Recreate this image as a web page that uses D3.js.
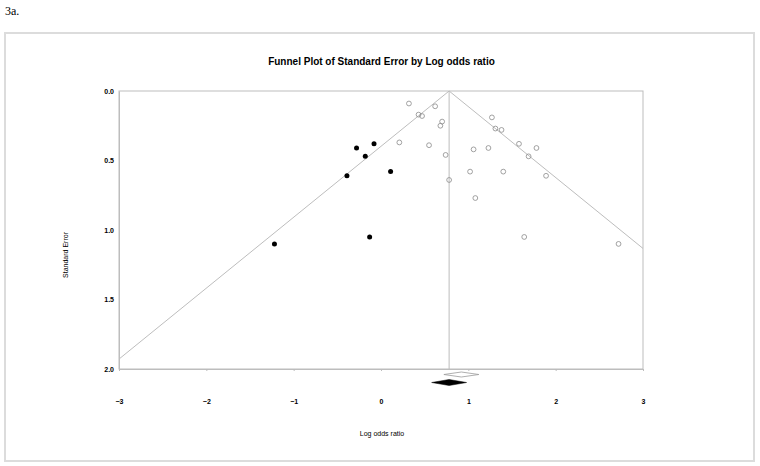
<!DOCTYPE html>
<html><head><meta charset="utf-8">
<script src="https://cdn.jsdelivr.net/npm/d3@7/dist/d3.min.js"></script>
<style>
html,body{margin:0;padding:0;background:#fff;}
svg{display:block;}
</style></head>
<body>
<svg id="chart" width="760" height="466"></svg>
<script>
// ---- data ----
const xTicks = [-3, -2, -1, 0, 1, 2, 3];
const yTicks = [0.0, 0.5, 1.0, 1.5, 2.0];
// observed studies (open circles)
const observedLOR = [0.32, 0.43, 0.47, 0.62, 0.70, 0.68, 0.21, 0.55, 0.74, 0.78,
                     1.27, 1.31, 1.38, 1.06, 1.23, 1.58, 1.78, 1.69, 1.02, 1.40,
                     1.89, 1.08, 1.64, 2.72];
const observedSE  = [0.09, 0.17, 0.18, 0.11, 0.22, 0.25, 0.37, 0.39, 0.46, 0.64,
                     0.19, 0.27, 0.28, 0.42, 0.41, 0.38, 0.41, 0.47, 0.58, 0.58,
                     0.61, 0.77, 1.05, 1.10];
// imputed studies (filled circles)
const imputedLOR = [-0.28, -0.08, -0.18, -0.39, 0.11, -0.13, -1.22];
const imputedSE  = [0.41, 0.38, 0.47, 0.61, 0.58, 1.05, 1.10];
// summary estimates [point, lower, upper]
const observedSummary = [0.92, 0.72, 1.12];
const adjustedSummary = [0.78, 0.58, 0.98];

// ---- layout ----
const svg = d3.select("#chart");
const x = d3.scaleLinear().domain([-3, 3]).range([119, 643]);
const y = d3.scaleLinear().domain([0, 2]).range([91, 369]);
const grey = "#bdbdbd";
const font = "'Liberation Sans', Arial, sans-serif";

// outer frame
svg.append("rect").attr("x", 5).attr("y", 33).attr("width", 749).attr("height", 428)
  .attr("fill", "none").attr("stroke", "#dcdcdc").attr("stroke-width", 2);

// figure label
svg.append("text").attr("x", 5).attr("y", 15).text("3a.")
  .attr("font-family", "'Liberation Serif', 'Times New Roman', serif").attr("font-size", 12).attr("fill", "#000");

// title
svg.append("text").attr("x", 381.5).attr("y", 65).attr("text-anchor", "middle")
  .attr("font-family", font).attr("font-weight", "bold").attr("font-size", 10)
  .text("Funnel Plot of Standard Error by Log odds ratio");

// plot frame
svg.append("rect").attr("x", x(-3)).attr("y", y(0)).attr("width", x(3) - x(-3)).attr("height", y(2) - y(0))
  .attr("fill", "none").attr("stroke", grey).attr("stroke-width", 1);

// axes
const xAxis = d3.axisBottom(x).tickValues(xTicks).tickFormat(d3.format("d"))
  .tickSizeInner(2).tickSizeOuter(0).tickPadding(28);
const gx = svg.append("g").attr("transform", `translate(0,${y(2)})`).call(xAxis);
const yAxis = d3.axisLeft(y).tickValues(yTicks).tickFormat(d3.format(".1f"))
  .tickSize(0).tickPadding(5);
const gy = svg.append("g").attr("transform", `translate(${x(-3)},0)`).call(yAxis);
[gx, gy].forEach(g => {
  g.select(".domain").attr("stroke", grey);
  g.selectAll(".tick line").attr("stroke", grey);
  g.selectAll(".tick text").attr("font-family", font).attr("font-size", 7)
    .attr("font-weight", "bold").attr("fill", "#000");
});

// axis titles
svg.append("text").attr("x", 382).attr("y", 436).attr("text-anchor", "middle")
  .attr("font-family", font).attr("font-size", 7).text("Log odds ratio");
svg.append("text").attr("transform", "translate(68,255) rotate(-90)").attr("text-anchor", "middle")
  .attr("font-family", font).attr("font-size", 7).text("Standard Error");

// funnel
const m = adjustedSummary[0];
const seLeft = Math.min(2, (m - (-3)) / 1.96);
const seRight = Math.min(2, (3 - m) / 1.96);
const funnel = [[m - 1.96 * seLeft, seLeft], [m, 0], [m + 1.96 * seRight, seRight]];
svg.append("path").attr("d", d3.line().x(d => x(d[0])).y(d => y(d[1]))(funnel))
  .attr("fill", "none").attr("stroke", grey).attr("stroke-width", 1);
svg.append("line").attr("x1", x(m)).attr("x2", x(m)).attr("y1", y(0)).attr("y2", y(2))
  .attr("stroke", grey).attr("stroke-width", 1);

// points
svg.append("g").selectAll("circle").data(d3.range(observedLOR.length)).join("circle")
  .attr("cx", i => x(observedLOR[i])).attr("cy", i => y(observedSE[i])).attr("r", 2.4)
  .attr("fill", "none").attr("stroke", "#8a8a8a").attr("stroke-width", 0.8);
svg.append("g").selectAll("circle").data(d3.range(imputedLOR.length)).join("circle")
  .attr("cx", i => x(imputedLOR[i])).attr("cy", i => y(imputedSE[i])).attr("r", 2.5)
  .attr("fill", "#000");

// summary diamonds
function diamond(s, cy, h) {
  return `M${x(s[1])},${cy} L${x(s[0])},${cy - h} L${x(s[2])},${cy} L${x(s[0])},${cy + h} Z`;
}
svg.append("path").attr("d", diamond(observedSummary, 374.5, 2.5))
  .attr("fill", "#fff").attr("stroke", "#9a9a9a").attr("stroke-width", 0.8);
svg.append("path").attr("d", diamond(adjustedSummary, 382.5, 3))
  .attr("fill", "#000").attr("stroke", "#000").attr("stroke-width", 0.5);
</script>
</body></html>
